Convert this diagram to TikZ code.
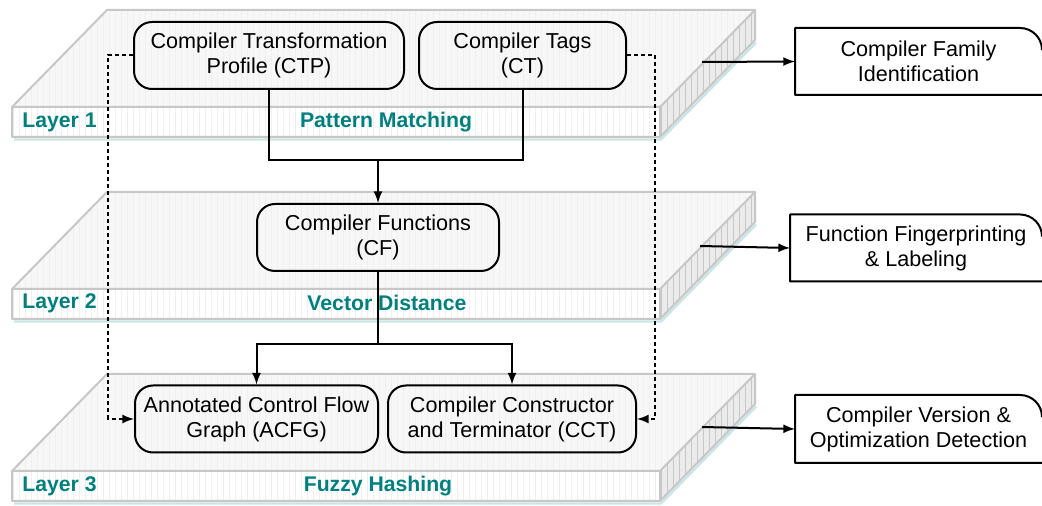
\documentclass[tikz,border=0pt]{standalone}
\usepackage{fontspec}
\setmainfont{Liberation Sans}
\usetikzlibrary{patterns}
\definecolor{layerteal}{RGB}{0,128,128}
\definecolor{slabshade}{RGB}{200,230,230}
\tikzset{
	slabtop/.style={fill=black!3},
	slabfront/.style={fill=white},
	slabside/.style={fill=black!8},
	slabhatch/.style={pattern=vertical lines, pattern color=black!#1},
	slabedge/.style={draw=black!22, line width=1pt, line join=round},
	proc/.style={draw, line width=1pt, rounded corners=9pt, align=center, minimum height=33.5pt, inner sep=2pt, font=\fontsize{10.8}{12.5}\selectfont},
	outcome/.style={align=center, minimum height=33.5pt, inner sep=2pt, outer sep=0pt, font=\fontsize{10.8}{12.5}\selectfont},
	outline/.style={line width=1pt, line join=round},
	layertag/.style={text=layerteal, inner sep=0pt, font=\bfseries\fontsize{10.6}{12.5}\selectfont},
	flow/.style={line width=1pt, -latex},
	link/.style={line width=1pt, dash pattern=on 2pt off 1.5pt, -latex},
}
% one slab of the stack, #1 = top edge
\def\layerslab(#1){
	\fill[slabtop] (107,#1) -- (755,#1) -- (660,#1+97) -- (12,#1+97) -- cycle;
	\fill[slabhatch=6] (107,#1) -- (755,#1) -- (660,#1+97) -- (12,#1+97) -- cycle;
	\fill[slabfront] (12,#1+97) rectangle (660,#1+127);
	\fill[slabhatch=6] (12,#1+97) rectangle (660,#1+127);
	\fill[slabside] (660,#1+97) -- (755,#1) -- (755,#1+30) -- (660,#1+127) -- cycle;
	\fill[slabhatch=22] (660,#1+97) -- (755,#1) -- (755,#1+30) -- (660,#1+127) -- cycle;
	\draw[slabshade, line width=1.2pt] (14,#1+129.5) -- (661,#1+129.5) -- (756,#1+32.5);
	\draw[slabedge] (12,#1+97) -- (107,#1) -- (755,#1) -- (755,#1+30) -- (660,#1+127) -- (12,#1+127) -- cycle;
	\draw[slabedge] (12,#1+97) -- (660,#1+97) -- (755,#1);
	\draw[slabedge] (660,#1+97) -- (660,#1+127);
}

\begin{document}
\begin{tikzpicture}[x=0.5pt, y=-0.5pt]
		%%%%% START %%%%%
		\useasboundingbox (0,0) rectangle (1042,506);
		
		\layerslab(10)
		\layerslab(192)
		\layerslab(374)
		
		\node[layertag, anchor=west] (l1) at (22,122) {Layer 1};
		\node[layertag] (pm) at (386,122) {Pattern Matching};
		\node[layertag, anchor=west] (l2) at (22,303) {Layer 2};
		\node[layertag] (vd) at (387,303) {Vector Distance};
		\node[layertag, anchor=west] (l3) at (22,486) {Layer 3};
		\node[layertag] (fh) at (378,486) {Fuzzy Hashing};
		
		\node[proc, minimum width=135pt] (ctp) at (269,55.5) {Compiler Transformation\\Profile (CTP)};
		\node[proc, minimum width=103.5pt] (ct) at (522.5,55.5) {Compiler Tags\\(CT)};
		\node[proc, minimum width=121pt] (cf) at (378,237.5) {Compiler Functions\\(CF)};
		\node[proc, minimum width=121.5pt] (acfg) at (256.5,419) {Annotated Control Flow\\Graph (ACFG)};
		\node[proc, minimum width=124pt] (cct) at (512,419) {Compiler Constructor\\and Terminator (CCT)};
		
		\coordinate (j1) at (378,160);
		\draw[line width=1pt] (ctp.south) |- (j1) -| (ct.south);
		\draw[flow] (j1) -- (cf.north);
		\coordinate (j2) at (378,344);
		\draw[line width=1pt] (cf.south) -- (j2);
		\draw[flow] (j2) -| (acfg.north);
		\draw[flow] (j2) -| (cct.north);
		
		\coordinate (dl) at (108,55.5);
		\coordinate (dr) at (655,55.5);
		\draw[link] (ctp.west) -- (dl) |- (acfg.west);
		\draw[link] (ct.east) -- (dr) |- (cct.east);
		
		% outcomes on the right
		\node[outcome, minimum width=123.5pt] (fam) at (918.5,61.5) {Compiler Family\\Identification};
		\node[outcome, minimum width=126pt] (fpl) at (916,248) {Function Fingerprinting\\\& Labeling};
		\node[outcome, minimum width=123.5pt, minimum height=34pt] (ver) at (918.5,429) {Compiler Version \&\\Optimization Detection};
		\foreach \b in {fam,fpl,ver}
			\draw[outline] (\b.south east) -- (\b.south west) -- (\b.north west) -- ([xshift=-11pt]\b.north east) arc[start angle=90, end angle=0, radius=11pt];
		
		\coordinate (s1) at (702,62);
		\coordinate (s2) at (700,246);
		\coordinate (s3) at (702,427);
		\draw[flow] (s1) -- (fam.west);
		\draw[flow] (s2) -- (fpl.west);
		\draw[flow] (s3) -- (ver.west);
		
		%%%%% END %%%%%
	\end{tikzpicture}
\end{document}
